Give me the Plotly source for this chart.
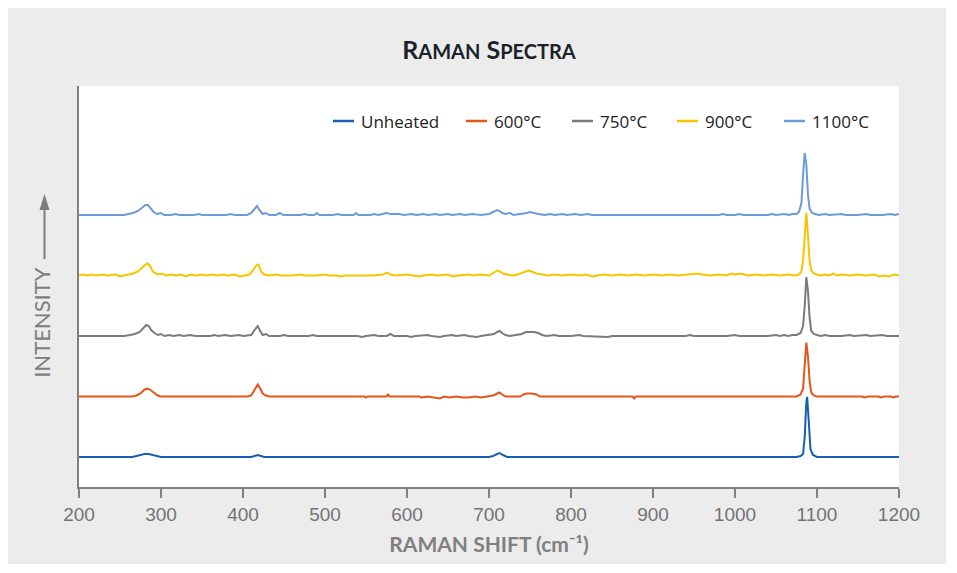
import plotly.graph_objects as go

# ---------------- data ----------------
series_names = ["Unheated", "600°C", "750°C", "900°C", "1100°C"]
series_colors = ["#1560b3", "#e4561a", "#7b7b7b", "#f6c500", "#6d9bd9"]

unheated_x = [200, 265, 270, 275, 280, 285, 290, 295, 300, 410, 415, 418, 422, 426,
              700, 705, 710, 713, 717, 722, 1075, 1080, 1083, 1085, 1087, 1088, 1090,
              1092, 1095, 1100, 1200]
unheated_y = [0, 0, 1, 2, 3, 3, 2, 1, 0, 0, 1, 2, 1, 0,
              0, 1, 3, 4, 2, 0, 0, 1, 3, 20, 55, 60, 35,
              8, 2, 0, 0]

h600_x = [200, 265, 270, 275, 280, 284, 288, 292, 296, 300, 330, 405, 410, 414, 418, 421,
          424, 428, 432, 548, 550, 552, 575, 577, 579, 615, 618, 625, 632, 640, 645, 652,
          660, 668, 675, 683, 690, 698, 705, 710, 713, 716, 720, 738, 742, 746, 752, 758,
          762, 800, 875, 877, 879, 1075, 1080, 1083, 1085, 1087, 1089, 1091, 1093, 1096,
          1100, 1155, 1158, 1162, 1175, 1178, 1182, 1190, 1193, 1196, 1200]
h600_y = [0, 0, 1, 3, 7, 8, 6, 3, 1, 0, 0, 0, 1, 6, 12, 8,
          3, 1, 0, 0, -1, 0, 0, 2, 0, 0, -1, 0, -1, -2, 0, -1,
          0, -1, -1, 0, -1, 0, 1, 3, 4, 2, 0, 0, 2, 3, 3, 2,
          0, 0, 0, -2, 0, 0, 2, 8, 30, 54, 40, 15, 4, 1,
          0, 0, -1, 0, 0, -1, 0, 0, -1, 0, 0]

h750_x = [200, 255, 262, 268, 274, 278, 282, 285, 288, 292, 296, 300, 304, 310, 315, 322,
          328, 335, 342, 360, 365, 370, 378, 385, 395, 400, 410, 414, 418, 421, 424, 428,
          432, 445, 450, 455, 480, 485, 490, 540, 545, 550, 560, 565, 575, 580, 584, 600,
          605, 610, 625, 630, 640, 645, 655, 660, 670, 675, 685, 690, 700, 706, 710, 713,
          716, 720, 725, 735, 740, 745, 750, 755, 760, 765, 770, 780, 785, 800, 810, 815,
          845, 850, 860, 940, 945, 950, 990, 1000, 1005, 1040, 1050, 1055, 1060, 1065,
          1070, 1075, 1080, 1083, 1085, 1087, 1089, 1091, 1093, 1096, 1100, 1105, 1110,
          1115, 1130, 1140, 1145, 1160, 1165, 1180, 1185, 1200]
h750_y = [0, 0, 1, 2, 4, 8, 11, 10, 6, 3, 1, 2, 0, 1, 0, 1,
          0, 1, 0, 0, 1, 0, 1, 0, 1, 0, 1, 6, 10, 5, 1, 2,
          0, 0, 1, 0, 0, 1, 0, 0, -1, 0, 1, 0, 0, 2, 0, 0,
          -1, 0, 1, 0, -1, 0, 1, 0, 1, 0, -1, 0, 1, 2, 4, 5,
          3, 1, 0, 1, 2, 4, 4, 4, 3, 1, 0, 1, 0, 0, 1, 0,
          -1, 0, 0, 0, 1, 0, 0, 1, 0, 0, 1, 0, 1, 0,
          1, 1, 3, 10, 30, 59, 45, 18, 5, 2, 1, 0, 1,
          0, 0, 1, 0, 1, 0, 1, 0, 0]

h900_x = [200, 205, 210, 215, 220, 230, 235, 245, 250, 255, 260, 266, 272, 277, 281, 284,
          287, 290, 294, 298, 302, 306, 312, 318, 324, 330, 336, 342, 350, 356, 362, 368,
          376, 382, 390, 396, 402, 408, 412, 416, 419, 422, 426, 432, 440, 446, 460, 470,
          476, 490, 500, 505, 515, 520, 525, 560, 570, 576, 580, 585, 600, 606, 615, 620,
          630, 636, 650, 656, 662, 675, 680, 690, 700, 706, 710, 713, 717, 722, 728, 735,
          742, 748, 752, 758, 765, 772, 780, 790, 800, 810, 818, 826, 832, 840, 850, 860,
          870, 880, 890, 900, 910, 920, 930, 945, 955, 960, 970, 980, 990, 995, 1000, 1008,
          1015, 1025, 1035, 1045, 1055, 1065, 1072, 1078, 1081, 1083, 1085, 1087, 1089,
          1091, 1093, 1096, 1100, 1105, 1110, 1115, 1120, 1124, 1130, 1140, 1150, 1160,
          1170, 1176, 1182, 1188, 1194, 1200]
h900_y = [0, 1, 0, 1, 0, 1, 0, 1, -1, 0, 1, 2, 4, 8, 11, 12,
          9, 4, 2, 1, 2, 0, 1, 0, 1, -1, 1, 0, 1, 0, 1, 0,
          1, 0, 1, -1, 0, 1, 5, 10, 11, 4, 1, 0, 1, 0, 0, 1,
          0, 0, 1, 0, 0, -1, 0, 0, 1, 3, 1, 0, 1, 0, -1, 0,
          1, 0, 1, -1, 0, 1, 0, 1, 0, 3, 5, 4, 2, 1, 0, 1,
          3, 5, 4, 2, 1, 0, 1, 0, 1, 0, 1, -1, 0, 1, 0, 1,
          0, 1, 0, 1, 0, 1, 0, 1, 2, 1, 0, 1, 0, 2, 1, 2,
          0, 1, 0, 1, 0, 1, 0, 1, 4, 15, 45, 63, 40,
          14, 5, 2, 1, 0, 1, 0, 2, 0, 1, 0, 1, 0,
          1, -1, 0, -1, 1, 0]

h1100_x = [200, 255, 260, 266, 272, 277, 281, 284, 287, 291, 295, 300, 304, 312, 318, 322,
           340, 346, 350, 380, 385, 390, 405, 410, 414, 417, 420, 424, 428, 432, 440, 445,
           449, 470, 475, 480, 487, 490, 493, 510, 515, 520, 535, 538, 541, 555, 560, 565,
           570, 575, 580, 590, 597, 605, 612, 620, 625, 635, 640, 650, 655, 665, 670, 680,
           690, 700, 705, 710, 713, 716, 720, 726, 730, 740, 746, 750, 754, 760, 768, 775,
           780, 790, 795, 805, 812, 820, 826, 835, 980, 985, 990, 1000, 1005, 1010, 1040,
           1045, 1050, 1060, 1066, 1070, 1075, 1078, 1081, 1083, 1085, 1087, 1089, 1091,
           1094, 1098, 1102, 1110, 1115, 1130, 1135, 1150, 1160, 1165, 1180, 1190, 1195, 1200]
h1100_y = [0, 0, 1, 2, 4, 7, 10, 10, 7, 3, 1, 2, 0, 0, 1, 0,
           0, 1, 0, 0, 1, 0, 0, 2, 6, 9, 5, 1, 2, 0, 0, 2,
           0, 0, 1, 0, 0, 2, 0, 0, 1, 0, 0, 2, 0, 0, 1, 0,
           1, 2, 1, 1, 0, 1, 0, 1, 0, 1, 0, 1, 0, 1, 0, 1,
           0, 1, 3, 5, 4, 2, 1, 2, 0, 1, 2, 3, 2, 1, 0, 1,
           0, 1, 0, 1, 0, 1, 0, 0, 0, 1, 0, 0, 1, 0, 0,
           1, 0, 1, 0, 1, 1, 3, 12, 40, 62, 50, 20, 6,
           2, 1, 0, 1, 0, 1, 0, 0, 1, 0, 0, 1, 0, 1]

series_x = [unheated_x, h600_x, h750_x, h900_x, h1100_x]
series_y = [unheated_y, h600_y, h750_y, h900_y, h1100_y]
stack_step = 60.5  # vertical offset between stacked spectra

x_ticks = [200, 300, 400, 500, 600, 700, 800, 900, 1000, 1100, 1200]

# ---------------- figure ----------------
PAGE_OFF = 8          # body margin of the page
W, H = 938, 556
ML, MR, MT, MB = 71, 47, 78, 77
PW, PH = W - ML - MR, H - MT - MB


def px_x(p):  # page pixel -> paper x
    return (p - PAGE_OFF - ML) / PW


def px_y(p):  # page pixel -> paper y
    return (H - MB - (p - PAGE_OFF)) / PH


fig = go.Figure()
for i, (name, col, xs, ys) in enumerate(zip(series_names, series_colors, series_x, series_y)):
    fig.add_trace(go.Scatter(
        x=xs, y=[v + i * stack_step for v in ys], mode="lines", name=name,
        line=dict(color=col, width=2), showlegend=False, hoverinfo="skip"))

shapes = []
annotations = []

# manual legend
leg_swatch = [333, 466, 572, 677, 784]
leg_y = px_y(121)
for name, col, sx in zip(series_names, series_colors, leg_swatch):
    shapes.append(dict(type="line", xref="paper", yref="paper", x0=px_x(sx), x1=px_x(sx + 21),
                       y0=leg_y, y1=leg_y, line=dict(color=col, width=2.5)))
    annotations.append(dict(xref="paper", yref="paper", x=px_x(sx + 26), y=leg_y, text=name,
                            showarrow=False, xanchor="left", yanchor="middle",
                            font=dict(family="Open Sans", size=17, color="#222222")))

# arrow of the y-axis title
ax_x = px_x(44.5)
shapes.append(dict(type="line", xref="paper", yref="paper", x0=ax_x, x1=ax_x,
                   y0=px_y(259), y1=px_y(206), line=dict(color="#7d7d7d", width=2)))
shapes.append(dict(type="path", xref="paper", yref="paper",
                   path=f"M {px_x(39.5)} {px_y(210)} L {px_x(49.5)} {px_y(210)} "
                        f"L {ax_x} {px_y(194)} Z",
                   fillcolor="#7d7d7d", line=dict(width=0)))

fig.update_layout(
    width=W, height=H, autosize=False,
    margin=dict(l=ML, r=MR, t=MT, b=MB),
    paper_bgcolor="#ececec", plot_bgcolor="white",
    title=dict(
        text="R<span style='font-size:20px'>AMAN</span> S<span style='font-size:20px'>PECTRA</span>",
        x=px_x(489), xref="paper", xanchor="center", y=1 - (50 - PAGE_OFF) / H, yanchor="middle",
        font=dict(family="Lato", size=25, color="#1b2329", weight="bold")),
    shapes=shapes, annotations=annotations,
    xaxis=dict(range=[200, 1200], tickvals=x_ticks, ticktext=[str(t) for t in x_ticks],
               showgrid=False, zeroline=False, showline=True, linecolor="#808080",
               linewidth=1.5, ticks="outside", ticklen=9, tickwidth=1.5, tickcolor="#808080",
               tickfont=dict(family="Liberation Sans", size=19, color="#737373"),
               title=dict(text="RAMAN SHIFT (cm⁻¹)", standoff=14,
                          font=dict(family="Lato", size=21, color="#808080", weight="bold"))),
    yaxis=dict(range=[-30, 371], showgrid=False, zeroline=False, showline=True,
               linecolor="#808080", linewidth=2, showticklabels=False, ticks="",
               title=dict(text="INTENSITY" + "&nbsp;" * 13, standoff=20,
                          font=dict(family="Lato", size=22, color="#7d7d7d"))),
)

fig.write_html("out.html")
